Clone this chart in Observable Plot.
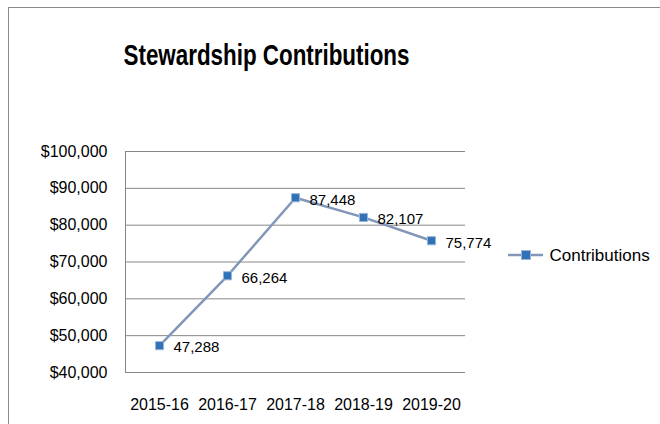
<!DOCTYPE html>
<html>
<head>
<meta charset="utf-8">
<script src="https://cdn.jsdelivr.net/npm/d3@7"></script>
<script src="https://cdn.jsdelivr.net/npm/@observablehq/plot@0.6"></script>
<style>
  html, body { margin: 0; padding: 0; background: #fff; }
  #wrap { position: relative; width: 660px; height: 424px; overflow: hidden; }
  #frame { position: absolute; left: 8px; top: 7px; width: 700px; height: 500px;
           border-left: 1px solid #8a8a8a; border-top: 1px solid #8a8a8a; }
  #chart { position: absolute; left: 0; top: 0; }
</style>
</head>
<body>
<div id="wrap"><div id="frame"></div><div id="chart"></div></div>
<script>
const title = "Stewardship Contributions";
const seriesName = "Contributions";
const years = ["2015-16", "2016-17", "2017-18", "2018-19", "2019-20"];
const contributions = [47288, 66264, 87448, 82107, 75774];
const yTicks = [40000, 50000, 60000, 70000, 80000, 90000, 100000];

const data = years.map((y, i) => ({year: y, value: contributions[i]}));
const lineColor = "#8196b8";
const markerFill = "#2f72b8";
const markerStroke = "#9db5d6";
const fontMain = "'Liberation Sans', Arial, sans-serif";

const plot = Plot.plot({
  width: 660,
  height: 424,
  marginLeft: 125,
  marginRight: 195,
  marginTop: 151,
  marginBottom: 52,
  style: {fontFamily: fontMain, fontSize: "16px", color: "#000", background: "transparent"},
  x: {type: "point", domain: years, padding: 0.5, label: null},
  y: {domain: [40000, 100000], label: null},
  marks: [
    Plot.gridY(yTicks, {stroke: "#868686", strokeOpacity: 1, strokeWidth: 1}),
    Plot.axisY(yTicks, {tickSize: 0, tickPadding: 18, tickFormat: d => "$" + d3.format(",")(d), fontSize: 16, fill: "#000"}),
    Plot.axisX({tickSize: 0, tickPadding: 26, fontSize: 16, fill: "#000"}),
    Plot.line(data, {x: "year", y: "value", stroke: lineColor, strokeWidth: 2.5}),
    Plot.dot(data, {x: "year", y: "value", symbol: "square", r: 4.6, fill: markerFill, stroke: markerStroke, strokeWidth: 1}),
    Plot.text(data, {x: "year", y: "value", text: d => d3.format(",")(d.value), textAnchor: "start", dx: 14, dy: 2, fontSize: 15, fill: "#000"}),
    Plot.text([title], {frameAnchor: "top", dx: -29, dy: -108, fontSize: 30, fontWeight: "bold", fill: "#000", className: "chart-title"}),
    Plot.text([seriesName], {frameAnchor: "right", textAnchor: "start", dx: 84, dy: -6.5, fontSize: 17, fill: "#000"})
  ]
});

document.getElementById("chart").appendChild(plot);

const svg = d3.select(plot);
// condense title like the narrow original face
svg.selectAll(".chart-title text").attr("textLength", 286).attr("lengthAdjust", "spacingAndGlyphs");

// left edge of plot area
const ys = plot.scale("y");
const xs = plot.scale("x");
const xLeft = xs.range[0];
svg.append("line").attr("x1", xLeft + 0.5).attr("x2", xLeft + 0.5)
  .attr("y1", ys.apply(40000)).attr("y2", ys.apply(100000))
  .attr("stroke", "#868686").attr("stroke-width", 1);

// legend symbol
const lg = svg.append("g");
lg.append("line").attr("x1", 508).attr("x2", 543).attr("y1", 255).attr("y2", 255)
  .attr("stroke", lineColor).attr("stroke-width", 2.5);
lg.append("rect").attr("x", 521.5).attr("y", 250.5).attr("width", 9).attr("height", 9)
  .attr("fill", markerFill).attr("stroke", markerStroke).attr("stroke-width", 1);
</script>
</body>
</html>
